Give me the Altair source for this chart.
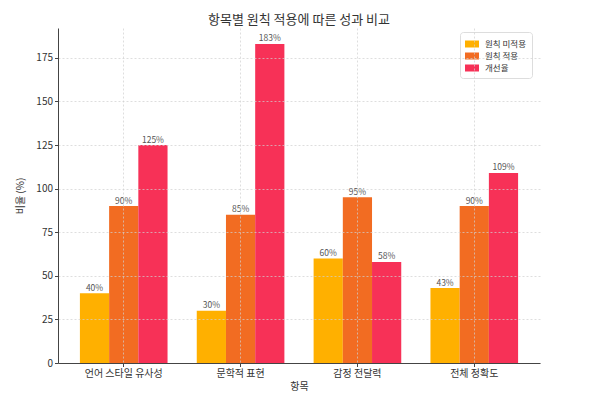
import altair as alt
import pandas as pd

categories = ["언어 스타일 유사성", "문학적 표현", "감정 전달력", "전체 정확도"]
series = ["원칙 미적용", "원칙 적용", "개선율"]
before = [40, 30, 60, 43]
after = [90, 85, 95, 90]
improve = [125, 183, 58, 109]
colors = ["#FFB000", "#F26C22", "#F73157"]

rows = []
for i, c in enumerate(categories):
    for s, vals in zip(series, [before, after, improve]):
        rows.append({"항목": c, "series": s, "value": vals[i], "label": f"{vals[i]}%"})
df = pd.DataFrame(rows)

FONT = "Noto Sans CJK KR"

x = alt.X("항목:N", sort=categories,
          scale=alt.Scale(paddingInner=0.25, paddingOuter=0.1875),
          axis=alt.Axis(title="항목", labelAngle=0, labelFontSize=10, titleFontSize=10,
                        titleFontWeight="normal", labelColor="#333", titleColor="#333",
                        domainColor="#444", tickColor="#444", tickSize=3.5,
                        grid=True, gridDash=[2, 2], gridColor="#d0d0d0", gridOpacity=0.7,
                        labelPadding=2, titlePadding=3, zindex=1, bandPosition=0.5))
xoff = alt.XOffset("series:N", sort=series, scale=alt.Scale(paddingInner=0, paddingOuter=0))
y = alt.Y("value:Q",
          scale=alt.Scale(domain=[0, 192.15], nice=False, zero=True),
          axis=alt.Axis(title="비율 (%)", values=[0, 25, 50, 75, 100, 125, 150, 175],
                        labelFontSize=10, titleFontSize=10, titleFontWeight="normal",
                        labelColor="#333", titleColor="#333", domainColor="#444",
                        tickColor="#444", tickSize=3.5, grid=True, gridDash=[2, 2],
                        gridColor="#d0d0d0", gridOpacity=0.7, titlePadding=10, zindex=1))

color = alt.Color("series:N", sort=series,
                  scale=alt.Scale(domain=series, range=colors),
                  legend=alt.Legend(title=None, orient="none", legendX=402, legendY=4,
                                    symbolType="M-1,-0.5H1V0.5H-1Z", symbolSize=196,
                                    labelFontSize=8.5, labelColor="#333", padding=5,
                                    rowPadding=0, labelOffset=6,
                                    strokeColor="#dddddd", fillColor="white",
                                    cornerRadius=3, symbolStrokeWidth=0))

base = alt.Chart(df)
bars = base.mark_bar().encode(x=x, xOffset=xoff, y=y, color=color)
labels = base.mark_text(baseline="bottom", dy=-0.5, fontSize=8.5, color="#555", font=FONT).encode(
    x=alt.X("항목:N", sort=categories), xOffset=alt.XOffset("series:N", sort=series),
    y="value:Q", text="label:N")

chart = (bars + labels).properties(
    width=482, height=335,
    title=alt.TitleParams("항목별 원칙 적용에 따른 성과 비교", fontSize=13, fontWeight="normal",
                          color="#333", font=FONT, offset=1),
    padding={"left": 50, "top": 20, "right": 10, "bottom": 31},
    autosize=alt.AutoSizeParams(type="none"),
).configure(font=FONT).configure_view(stroke=None).configure_axis(
    labelFont=FONT, titleFont=FONT)

chart.save("out.html", embed_options={"renderer": "svg", "actions": False})
